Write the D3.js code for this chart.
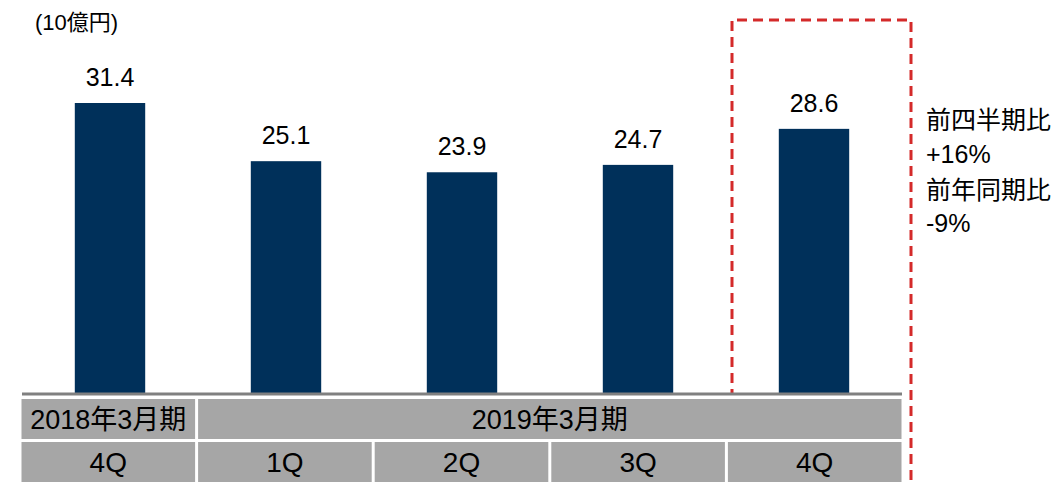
<!DOCTYPE html>
<html><head><meta charset="utf-8">
<script src="https://cdn.jsdelivr.net/npm/d3@7"></script>
<style>body{margin:0;background:#fff}svg{display:block}text{font-family:"Liberation Sans","Noto Sans CJK JP",Arial,sans-serif;fill:#000}</style>
</head><body><svg id="c" width="1056" height="485"></svg>
<script>
const categories = ["4Q","1Q","2Q","3Q","4Q"];
const values = [31.4, 25.1, 23.9, 24.7, 28.6];
const periods = [{label:"2018年3月期", span:1},{label:"2019年3月期", span:4}];
const unitLabel = "(10億円)";
const notes = ["前四半期比","+16%","前年同期比","-9%"];

const svg = d3.select("#c");
const x = d3.scaleBand().domain(d3.range(categories.length)).range([22, 902]).paddingInner(0.6).paddingOuter(0.3);
const xc = d3.scaleBand().domain(d3.range(categories.length)).range([20, 903]);
const y = d3.scaleLinear().domain([0, 31.4]).range([393, 103]);

// highlight box (drawn first; table and axis cover it)
svg.append("path").attr("d",`M732,495 L732,20 L911,20 L911,495`)
  .attr("fill","none").attr("stroke","#d42a2a").attr("stroke-width",3).attr("stroke-dasharray","10,6");

svg.append("text").attr("x",35).attr("y",30).attr("font-size",22).text(unitLabel);

svg.selectAll("rect.bar").data(values).enter().append("rect").attr("class","bar")
  .attr("x",(d,i)=>x(i)).attr("width",x.bandwidth())
  .attr("y",d=>y(d)).attr("height",d=>y(0)-y(d)).attr("fill","#00305a");

svg.selectAll("text.val").data(values).enter().append("text").attr("class","val")
  .attr("x",(d,i)=>x(i)+x.bandwidth()/2).attr("y",d=>y(d)-17)
  .attr("text-anchor","middle").attr("font-size",25).text(d=>d.toFixed(1));

// white backing for table area
svg.append("rect").attr("x",18).attr("y",395).attr("width",888).attr("height",90).attr("fill","#fff");

svg.append("line").attr("x1",22).attr("x2",902).attr("y1",394).attr("y2",394)
  .attr("stroke","#808080").attr("stroke-width",3);

// period row
let idx = 0;
periods.forEach(p=>{
  const x0 = xc(idx), x1 = xc(idx+p.span-1)+xc.bandwidth();
  svg.append("rect").attr("x",x0+1.5).attr("y",399).attr("width",x1-x0-3).attr("height",40).attr("fill","#a6a6a6");
  svg.append("text").attr("x",(x0+x1)/2).attr("y",429).attr("text-anchor","middle").attr("font-size",27).text(p.label);
  idx += p.span;
});
// quarter row
categories.forEach((c,i)=>{
  const x0 = xc(i);
  svg.append("rect").attr("x",x0+1.5).attr("y",442).attr("width",xc.bandwidth()-3).attr("height",40).attr("fill","#a6a6a6");
  svg.append("text").attr("x",x0+xc.bandwidth()/2).attr("y",472).attr("text-anchor","middle").attr("font-size",28).text(c);
});

const ny = [129,163,199,232];
notes.forEach((t,i)=>{
  svg.append("text").attr("x",926).attr("y",ny[i]).attr("font-size",25).text(t);
});
</script></body></html>
